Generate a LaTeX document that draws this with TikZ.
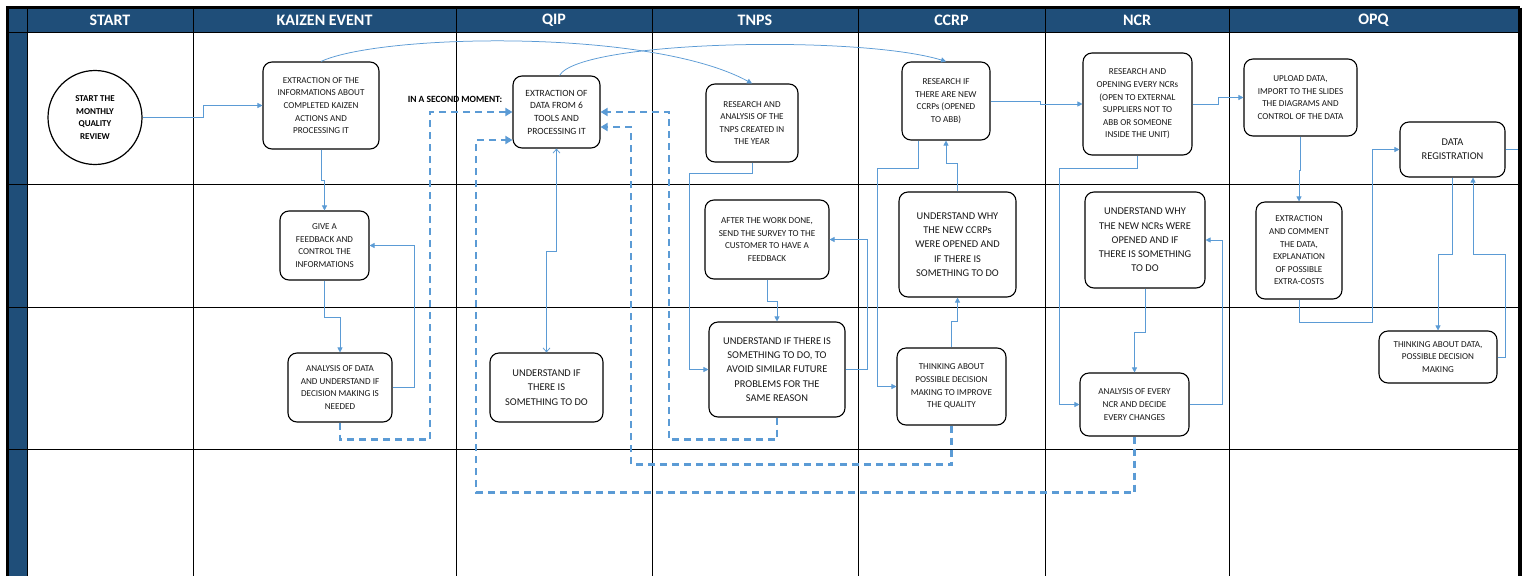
\documentclass[tikz,border=0pt]{standalone}
\usepackage{fontspec}
\setmainfont{Carlito}
\usetikzlibrary{arrows.meta}
\definecolor{hdr}{HTML}{1F4E79}
\definecolor{flow}{HTML}{5B9BD5}

\begin{document}
\begin{tikzpicture}[x=1pt,y=-1pt,
  box/.style={draw=black, line width=1.1pt, rounded corners=9pt, fill=white,
    align=center, inner sep=1pt, text=black!90,
    font=\fontsize{9.1}{12.6}\selectfont},
  bigbox/.style={box, font=\fontsize{10.4}{14.2}\selectfont},
  hdrtxt/.style={text=white, font=\fontsize{16}{18}\selectfont\bfseries},
  conn/.style={draw=flow, line width=0.75pt, -{Triangle[length=5pt,width=5pt]}},
  plain/.style={draw=flow, line width=0.75pt},
  back/.style={draw=flow, line width=2.2pt, dash pattern=on 7pt off 5pt,
    -{Triangle[length=7pt,width=8pt]}},
  grid/.style={draw=black, line width=1pt}]

\useasboundingbox (0,0) rectangle (1528,576);
\fill[white] (0,0) rectangle (1528,576);

% swimlane frame
\fill[hdr] (9,9) rectangle (1518,32);
\fill[hdr] (9,32) rectangle (27,576);
\foreach \yy in {32,184,307,449} \draw[grid] (9,\yy) -- (1518,\yy);
\foreach \xx in {27,193,456,652,858,1045,1229} \draw[grid] (\xx,9) -- (\xx,576);
\draw[black, line width=3pt] (7.5,576) -- (7.5,7.5) -- (1520,7.5);
\draw[black, line width=4pt] (1520,7.5) -- (1520,576);

% lane titles
\node[hdrtxt] (h1) at (110,20.5) {START};
\node[hdrtxt] (h2) at (324.5,20.5) {KAIZEN EVENT};
\node[hdrtxt] (h3) at (554,20.5) {QIP};
\node[hdrtxt] (h4) at (755,20.5) {TNPS};
\node[hdrtxt] (h5) at (951.5,20.5) {CCRP};
\node[hdrtxt] (h6) at (1137,20.5) {NCR};
\node[hdrtxt] (h7) at (1373.5,20.5) {OPQ};

% start
\node[circle, draw=black, line width=1.2pt, minimum size=94pt, fill=white, align=center,
  inner sep=0pt, font=\fontsize{9}{12.6}\selectfont\bfseries] (s) at (95,117.5)
  {START THE\\MONTHLY\\QUALITY\\REVIEW};

% kaizen event
\node[box, minimum width=116pt, minimum height=87pt] (k1) at (321,105.5)
  {EXTRACTION OF THE\\INFORMATIONS ABOUT\\COMPLETED KAIZEN\\ACTIONS AND\\PROCESSING IT};
\node[box, minimum width=89pt, minimum height=69pt] (k2) at (324.5,245.5)
  {GIVE A\\FEEDBACK AND\\CONTROL THE\\INFORMATIONS};
\node[box, minimum width=104pt, minimum height=69pt] (k3) at (340,387.5)
  {ANALYSIS OF DATA\\AND UNDERSTAND IF\\DECISION MAKING IS\\NEEDED};

% qip
\node[box, minimum width=87pt, minimum height=72pt, font=\fontsize{9.5}{12.7}\selectfont] (q1) at (556.5,112)
  {EXTRACTION OF\\DATA FROM 6\\TOOLS AND\\PROCESSING IT};
\node[bigbox, minimum width=113pt, minimum height=69pt] (q2) at (546.5,387.5)
  {UNDERSTAND IF\\THERE IS\\SOMETHING TO DO};

% tnps
\node[box, minimum width=92pt, minimum height=78pt] (t1) at (752,123)
  {RESEARCH AND\\ANALYSIS OF THE\\TNPS CREATED IN\\THE YEAR};
\node[box, minimum width=124pt, minimum height=79pt] (t2) at (767,239.5)
  {AFTER THE WORK DONE,\\SEND THE SURVEY TO THE\\CUSTOMER TO HAVE A\\FEEDBACK};
\node[bigbox, minimum width=136pt, minimum height=95pt] (t3) at (777,369.5)
  {UNDERSTAND IF THERE IS\\SOMETHING TO DO, TO\\AVOID SIMILAR FUTURE\\PROBLEMS FOR THE\\SAME REASON};

% ccrp
\node[box, minimum width=88pt, minimum height=78pt] (c1) at (946,101)
  {RESEARCH IF\\THERE ARE NEW\\CCRPs (OPENED\\TO ABB)};
\node[bigbox, minimum width=117pt, minimum height=105pt] (c2) at (957.5,244.5)
  {UNDERSTAND WHY\\THE NEW CCRPs\\WERE OPENED AND\\IF THERE IS\\SOMETHING TO DO};
\node[box, minimum width=109pt, minimum height=77pt] (c3) at (951.5,386.5)
  {THINKING ABOUT\\POSSIBLE DECISION\\MAKING TO IMPROVE\\THE QUALITY};

% ncr
\node[box, minimum width=109pt, minimum height=102pt] (n1) at (1137.5,104)
  {RESEARCH AND\\OPENING EVERY NCRs\\(OPEN TO EXTERNAL\\SUPPLIERS NOT TO\\ABB OR SOMEONE\\INSIDE THE UNIT)};
\node[bigbox, minimum width=120pt, minimum height=96pt] (n2) at (1145,240)
  {UNDERSTAND WHY\\THE NEW NCRs WERE\\OPENED AND IF\\THERE IS SOMETHING\\TO DO};
\node[box, minimum width=109pt, minimum height=63pt] (n3) at (1134.5,404.5)
  {ANALYSIS OF EVERY\\NCR AND DECIDE\\EVERY CHANGES};

% opq
\node[box, minimum width=113pt, minimum height=77pt] (o1) at (1300.5,97.5)
  {UPLOAD DATA,\\IMPORT TO THE SLIDES\\THE DIAGRAMS AND\\CONTROL OF THE DATA};
\node[bigbox, minimum width=105pt, minimum height=55pt] (o2) at (1452.5,149.5)
  {DATA\\REGISTRATION};
\node[box, minimum width=86pt, minimum height=97pt] (o3) at (1299,250.5)
  {EXTRACTION\\AND COMMENT\\THE DATA,\\EXPLANATION\\OF POSSIBLE\\EXTRA-COSTS};
\node[box, minimum width=118pt, minimum height=52pt] (o4) at (1438,357)
  {THINKING ABOUT DATA,\\POSSIBLE DECISION\\MAKING};

\node[font=\fontsize{9.5}{11}\selectfont\bfseries, text=black] (sm) at (455,99) {IN A SECOND MOMENT:};

% forward flow
\draw[conn] (s.east) -- ++(61,0) |- (k1.west);
\draw[conn] (k1.north) .. controls (380,34) and (650,28) .. (t1.north);
\draw[conn] ([xshift=3pt]q1.north) .. controls (580,40) and (860,35) .. (c1.north);
\draw[conn] (k1.south) -- ++(0,31) -| (k2.north);
\draw[conn] (k2.south) -- ++(0,37) -| (k3.north);
\draw[conn] (k3.east) -- ++(22,0) |- (k2.east);
\draw[plain, {Straight Barb[length=4pt,width=7pt]}-{Straight Barb[length=4pt,width=7pt]}]
  (q1.south) -- ++(0,103) -| (q2.north);
\draw[conn] (t1.south) -- ++(0,11) -- ++(-63,0) |- (t3.west);
\draw[conn] (t2.south) -- ++(0,22) -| (t3.north);
\draw[conn] (t3.east) -- ++(22,0) |- (t2.east);
\draw[conn] ([xshift=-28pt]c1.south) -- ++(0,28) -- ++(-41,0) |- (c3.west);
\draw[conn] (c3.north) -- ++(0,-26) -| (c2.south);
\draw[conn] (c2.north) -- ++(0,-28) -| (c1.south);
\draw[conn] (c1.east) -- ++(50,0) |- (n1.west);
\draw[conn] (n1.east) -- ++(26,0) |- (o1.west);
\draw[conn] (n1.south) -- ++(0,13) -- ++(-78.5,0) |- (n3.west);
\draw[conn] (n2.south) -- ++(0,44) -| (n3.north);
\draw[conn] (n3.east) -- ++(33,0) |- (n2.east);
\draw[conn] (o1.south) -- ++(0,34) -| (o3.north);
\draw[conn] (o3.south) -- ++(0,23) -- ++(73,0) |- (o2.west);
\draw[conn] (o2.south) -- ++(0,77) -| (o4.north);
\draw[conn] (o4.east) -- ++(8,0) -- ++(0,-103) -| ([xshift=20.5pt]o2.south);
\coordinate (oend) at (1518,149.5);
\draw[plain] (o2.east) -- (oend);

% loops back to QIP
\draw[back] (k3.south) -- ++(0,17) -- ++(90,0) |- (q1.west);
\draw[back] (n3.south) -- ++(0,56) -- ++(-658.5,0) |- ([yshift=-28pt]q1.west);
\draw[back] (t3.south) -- ++(0,22) -- ++(-108,0) |- (q1.east);
\draw[back] (c3.south) -- ++(0,39) -- ++(-320.5,0) |- ([yshift=-15pt]q1.east);

\end{tikzpicture}
\end{document}
